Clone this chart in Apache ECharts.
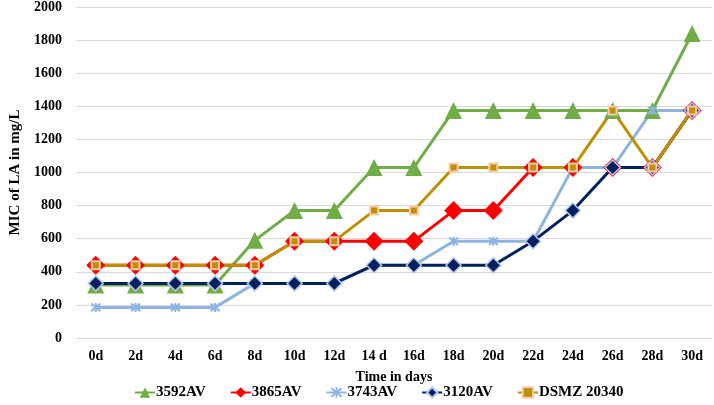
<!DOCTYPE html>
<html><head><meta charset="utf-8">
<script src="https://cdn.jsdelivr.net/npm/echarts@6/dist/echarts.min.js"></script>
<style>html,body{margin:0;padding:0;background:#fff}#c{width:714px;height:405px}</style>
</head><body><div id="c"></div>
<script>
const categories = ['0d','2d','4d','6d','8d','10d','12d','14 d','16d','18d','20d','22d','24d','26d','28d','30d'];
const s3592 = [320,320,320,320,590,770,770,1030,1030,1375,1375,1375,1375,1375,1375,1840];
const s3865 = [440,440,440,440,440,585,585,585,585,770,770,1030,1030,1030,1030,1375];
const s3743 = [185,185,185,185,330,330,330,440,440,585,585,585,1030,1030,1375,1375];
const s3120 = [330,330,330,330,330,330,330,440,440,440,440,585,770,1030,1030,1375];
const sDSMZ = [440,440,440,440,440,585,585,770,770,1030,1030,1030,1030,1375,1030,1375];
const yTicks = [0,200,400,600,800,1000,1200,1400,1600,1800,2000];

const font = 'Liberation Serif';
const star = 'path://M0,0 L10,10 M10,0 L0,10 M5,-1 L5,11';
const chart = echarts.init(document.getElementById('c'));
chart.setOption({
  animation:false,
  textStyle:{fontFamily:font},
  grid:{left:62,right:2,top:6,bottom:67},
  legend:{bottom:0,left:129,itemGap:24,itemWidth:20,itemHeight:13,
    textStyle:{fontFamily:font,fontWeight:'bold',fontSize:15,color:'#000',padding:[0,0,0,-4]}},
  xAxis:{type:'category',data:categories,boundaryGap:true,
    name:'Time in days',nameLocation:'middle',nameGap:32,
    nameTextStyle:{fontFamily:font,fontWeight:'bold',fontSize:14,color:'#000'},
    axisLine:{show:false},axisTick:{show:false},
    axisLabel:{fontFamily:font,fontWeight:'bold',fontSize:14,color:'#000',margin:11,interval:0}},
  yAxis:{type:'value',min:yTicks[0],max:yTicks[yTicks.length-1],interval:200,
    name:'MIC of LA in mg/L',nameLocation:'middle',nameGap:46,
    nameTextStyle:{fontFamily:font,fontWeight:'bold',fontSize:15,color:'#000'},
    axisLine:{show:false},axisTick:{show:false},
    splitLine:{lineStyle:{color:'#D9D9D9',width:1}},
    axisLabel:{fontFamily:font,fontWeight:'bold',fontSize:14,color:'#000',margin:14,
      formatter:v=>String(v)}},
  series:[
    {name:'3592AV',type:'line',data:s3592,symbol:'triangle',symbolSize:17,
      lineStyle:{color:'#70AD47',width:3},itemStyle:{color:'#70AD47'}},
    {name:'3865AV',type:'line',data:s3865,symbol:'diamond',symbolSize:19,
      lineStyle:{color:'#FF0000',width:3},itemStyle:{color:'#FF0000'}},
    {name:'3743AV',type:'line',data:s3743,symbol:star,symbolSize:9,
      lineStyle:{color:'#8EB4E3',width:3},itemStyle:{color:'#8EB4E3',borderColor:'#8EB4E3',borderWidth:2}},
    {name:'3120AV',type:'line',data:s3120,symbol:'diamond',symbolSize:15,
      lineStyle:{color:'#002060',width:3},itemStyle:{color:'#002060',borderColor:'#B4C7E7',borderWidth:1.5}},
    {name:'DSMZ 20340',type:'line',data:sDSMZ,symbol:'rect',symbolSize:8,
      lineStyle:{color:'#BF9000',width:3},itemStyle:{color:'#BF9000',borderColor:'#F8CBAD',borderWidth:2}}
  ]
});
</script></body></html>
